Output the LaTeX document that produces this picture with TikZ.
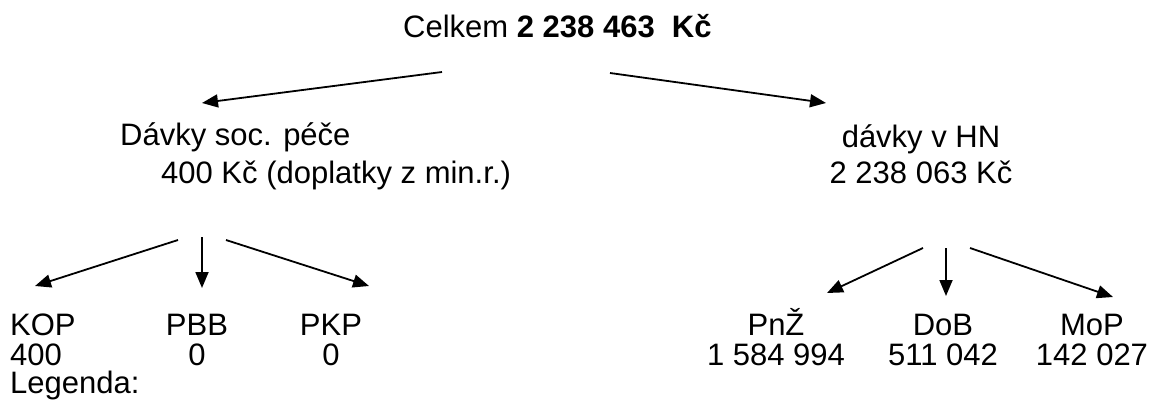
\documentclass[tikz,border=0pt]{standalone}
\usepackage{fontspec}
\setmainfont{Liberation Sans}
\usetikzlibrary{arrows.meta}

\begin{document}
\begin{tikzpicture}[x=1pt, y=-1pt,
    txt/.style={inner sep=0pt, anchor=base west, font=\fontsize{31}{36}\selectfont},
    ctxt/.style={txt, anchor=base},
    arr/.style={line width=1.8pt, -{Triangle[length=16pt,width=13pt]}}]

    \useasboundingbox (0,0) rectangle (1160,412);

    % Total
    \node[txt] (celkem) at (403,38) {Celkem \textbf{2 238 463\ \ Kč}};

    % First level
    \node[txt] (davkysoc) at (120,146) {Dávky soc. péče};
    \node[txt] (davkysocsum) at (161,183) {400 Kč (doplatky z min.r.)};
    \node[ctxt] (davkyhn) at (921,147) {dávky v HN};
    \node[ctxt] (davkyhnsum) at (921,183) {2 238 063 Kč};

    % Second level
    \node[txt] (kop) at (10,335) {KOP};
    \node[txt] (kopval) at (10,365) {400};
    \foreach \name/\lab/\val/\x in {pbb/PBB/0/197, pkp/PKP/0/331, pnz/PnŽ/1 584 994/776, dob/DoB/511 042/943, mop/MoP/142 027/1092} {
        \node[ctxt] (\name) at (\x,335) {\lab};
        \node[ctxt] (\name val) at (\x,365) {\val};
    }
    \node[txt] (legenda) at (10,393) {Legenda:};

    % Arrows between the levels
    \foreach \n/\sx/\sy/\tx/\ty in {celsoc/442/72/202/103, celhn/610/73/826/103,
        sockop/178/240/35/286, socpbb/202/237/202/288, socpkp/226/240/369/286,
        hnpnz/923/248/827/293, hndob/946/248/946/296, hnmop/970/248/1113/297} {
        \coordinate (\n from) at (\sx,\sy);
        \coordinate (\n to) at (\tx,\ty);
        \draw[arr] (\n from) -- (\n to);
    }
\end{tikzpicture}
\end{document}
